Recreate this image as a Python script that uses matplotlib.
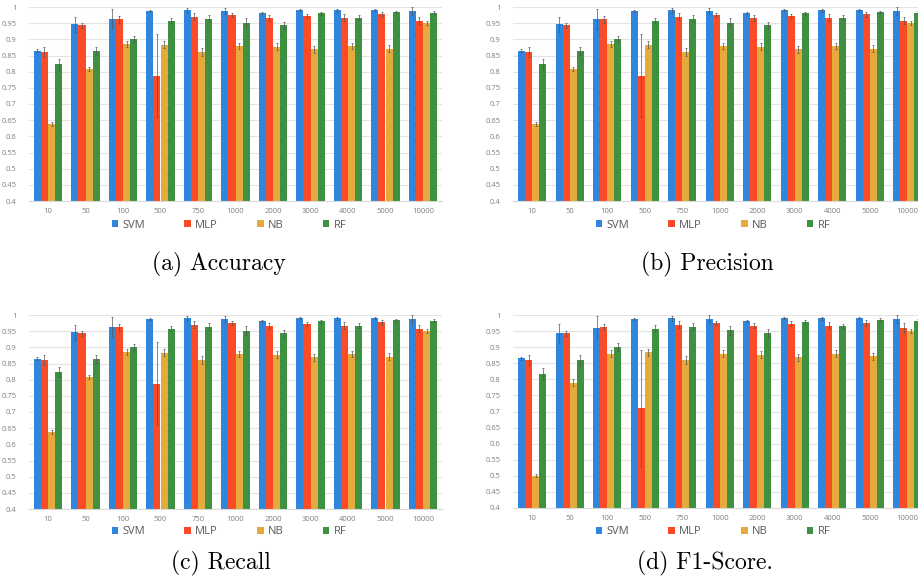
import matplotlib
matplotlib.use("Agg")
import matplotlib.pyplot as plt
from matplotlib.patches import Patch
import numpy as np

categories = ["10", "50", "100", "500", "750", "1000", "2000", "3000", "4000", "5000", "10000"]
models = ["SVM", "MLP", "NB", "RF"]
colors = ["#2f86dc", "#fa4a26", "#e6aa3c", "#3d9140"]
yticks = [0.4, 0.45, 0.5, 0.55, 0.6, 0.65, 0.7, 0.75, 0.8, 0.85, 0.9, 0.95, 1.0]
ytick_labels = ["0.4", "0.45", "0.5", "0.55", "0.6", "0.65", "0.7", "0.75", "0.8", "0.85", "0.9", "0.95", "1"]

# Accuracy
acc_svm = [0.865, 0.946, 0.963, 0.987, 0.990, 0.987, 0.981, 0.991, 0.990, 0.991, 0.987]
acc_mlp = [0.860, 0.943, 0.962, 0.788, 0.970, 0.974, 0.967, 0.972, 0.967, 0.977, 0.958]
acc_nb = [0.638, 0.808, 0.885, 0.883, 0.861, 0.880, 0.877, 0.869, 0.879, 0.871, 0.951]
acc_rf = [0.823, 0.864, 0.901, 0.958, 0.964, 0.952, 0.943, 0.980, 0.967, 0.985, 0.982]
acc_svm_err = [0.005, 0.022, 0.030, 0.003, 0.008, 0.010, 0.003, 0.004, 0.005, 0.004, 0.012]
acc_mlp_err = [0.015, 0.007, 0.010, 0.127, 0.010, 0.006, 0.009, 0.007, 0.010, 0.008, 0.012]
acc_nb_err = [0.005, 0.007, 0.010, 0.011, 0.011, 0.010, 0.011, 0.010, 0.010, 0.010, 0.006]
acc_rf_err = [0.015, 0.012, 0.010, 0.008, 0.011, 0.013, 0.011, 0.006, 0.007, 0.004, 0.005]

# Precision
pre_svm = [0.865, 0.946, 0.963, 0.987, 0.990, 0.987, 0.981, 0.991, 0.990, 0.991, 0.987]
pre_mlp = [0.860, 0.943, 0.962, 0.788, 0.970, 0.974, 0.967, 0.972, 0.967, 0.977, 0.958]
pre_nb = [0.638, 0.808, 0.885, 0.883, 0.861, 0.880, 0.877, 0.869, 0.879, 0.871, 0.951]
pre_rf = [0.823, 0.864, 0.901, 0.958, 0.964, 0.952, 0.943, 0.980, 0.967, 0.985, 0.982]
pre_svm_err = [0.005, 0.022, 0.030, 0.003, 0.008, 0.010, 0.003, 0.004, 0.005, 0.004, 0.012]
pre_mlp_err = [0.015, 0.007, 0.010, 0.127, 0.010, 0.006, 0.009, 0.007, 0.010, 0.008, 0.012]
pre_nb_err = [0.005, 0.007, 0.010, 0.011, 0.011, 0.010, 0.011, 0.010, 0.010, 0.010, 0.006]
pre_rf_err = [0.015, 0.012, 0.010, 0.008, 0.011, 0.013, 0.011, 0.006, 0.007, 0.004, 0.005]

# Recall
rec_svm = [0.865, 0.946, 0.963, 0.987, 0.990, 0.987, 0.981, 0.991, 0.990, 0.991, 0.987]
rec_mlp = [0.860, 0.943, 0.962, 0.788, 0.970, 0.974, 0.967, 0.972, 0.967, 0.977, 0.958]
rec_nb = [0.638, 0.808, 0.885, 0.883, 0.861, 0.880, 0.877, 0.869, 0.879, 0.871, 0.951]
rec_rf = [0.823, 0.864, 0.901, 0.958, 0.964, 0.952, 0.943, 0.980, 0.967, 0.985, 0.982]
rec_svm_err = [0.005, 0.022, 0.030, 0.003, 0.008, 0.010, 0.003, 0.004, 0.005, 0.004, 0.012]
rec_mlp_err = [0.015, 0.007, 0.010, 0.127, 0.010, 0.006, 0.009, 0.007, 0.010, 0.008, 0.012]
rec_nb_err = [0.005, 0.007, 0.010, 0.011, 0.011, 0.010, 0.011, 0.010, 0.010, 0.010, 0.006]
rec_rf_err = [0.015, 0.012, 0.010, 0.008, 0.011, 0.013, 0.011, 0.006, 0.007, 0.004, 0.005]

# F1-Score
f1_svm = [0.865, 0.944, 0.960, 0.987, 0.990, 0.987, 0.981, 0.991, 0.990, 0.991, 0.987]
f1_mlp = [0.860, 0.943, 0.962, 0.712, 0.970, 0.974, 0.967, 0.973, 0.967, 0.975, 0.960]
f1_nb = [0.500, 0.790, 0.880, 0.884, 0.860, 0.880, 0.877, 0.869, 0.880, 0.872, 0.950]
f1_rf = [0.816, 0.860, 0.900, 0.958, 0.964, 0.952, 0.944, 0.979, 0.965, 0.985, 0.982]
f1_svm_err = [0.005, 0.028, 0.036, 0.004, 0.008, 0.012, 0.003, 0.004, 0.005, 0.004, 0.013]
f1_mlp_err = [0.016, 0.008, 0.010, 0.180, 0.010, 0.006, 0.008, 0.007, 0.010, 0.009, 0.015]
f1_nb_err = [0.005, 0.010, 0.010, 0.011, 0.012, 0.011, 0.011, 0.011, 0.010, 0.011, 0.006]
f1_rf_err = [0.018, 0.015, 0.013, 0.010, 0.012, 0.014, 0.012, 0.006, 0.008, 0.005, 0.005]

captions = ["(a) Accuracy", "(b) Precision", "(c) Recall", "(d) F1-Score."]

panels = [
    ([acc_svm, acc_mlp, acc_nb, acc_rf], [acc_svm_err, acc_mlp_err, acc_nb_err, acc_rf_err]),
    ([pre_svm, pre_mlp, pre_nb, pre_rf], [pre_svm_err, pre_mlp_err, pre_nb_err, pre_rf_err]),
    ([rec_svm, rec_mlp, rec_nb, rec_rf], [rec_svm_err, rec_mlp_err, rec_nb_err, rec_rf_err]),
    ([f1_svm, f1_mlp, f1_nb, f1_rf], [f1_svm_err, f1_mlp_err, f1_nb_err, f1_rf_err]),
]

W, H = 918, 585
fig = plt.figure(figsize=(W / 100, H / 100), dpi=100)
fig.patch.set_facecolor("white")

# pixel boxes: left, right, top, bottom
boxes = [
    (29.25, 441.75, 7, 201),
    (513.25, 926.25, 7, 201),
    (29.25, 441.75, 315, 509),
    (513.25, 926.25, 315, 508),
]
legend_x = [229, 713, 229, 713]
legend_y = [225, 225, 532, 532]
caption_pos = [(219, 264), (707, 264), (221, 563), (705, 563)]

tick_color = "#7f7f7f"
grid_color = "#e3e3e3"
x = np.arange(len(categories))
bw = 0.187

for i, (vals, errs) in enumerate(panels):
    l, r, t, b = boxes[i]
    ax = fig.add_axes([l / W, 1 - b / H, (r - l) / W, (b - t) / H])
    ax.set_facecolor("white")
    for j in range(4):
        off = (j - 1.5) * bw
        bottoms = np.full(len(categories), 0.4)
        heights = np.array(vals[j]) - 0.4
        ax.bar(x + off, heights, bw, bottom=bottoms, color=colors[j], zorder=2,
               yerr=errs[j], error_kw=dict(ecolor="#555555", elinewidth=0.5,
                                            capsize=1.0, capthick=0.5, zorder=3,
                                            clip_on=False))
    ax.set_xlim(-0.5, len(categories) - 0.5)
    ax.set_ylim(0.4, 1.0)
    ax.set_yticks(yticks)
    ax.set_yticklabels(ytick_labels)
    ax.set_xticks(x)
    ax.set_xticklabels(categories)
    ax.tick_params(axis="both", length=0, labelsize=5.5, colors=tick_color)
    ax.tick_params(axis="y", pad=9)
    ax.tick_params(axis="x", pad=5)
    for lab in ax.get_xticklabels() + ax.get_yticklabels():
        lab.set_fontfamily("Open Sans")
    ax.grid(axis="y", color=grid_color, linewidth=0.8, zorder=0)
    ax.set_axisbelow(True)
    for s in ["top", "right", "left"]:
        ax.spines[s].set_visible(False)
    ax.spines["bottom"].set_color("#d9d9d9")
    ax.spines["bottom"].set_linewidth(0.8)

    handles = [Patch(facecolor=c, edgecolor="none") for c in colors]
    fig.legend(handles, models, loc="center", ncol=4,
               bbox_to_anchor=(legend_x[i] / W, 1 - legend_y[i] / H),
               frameon=False, prop={"family": "Open Sans", "size": 8},
               labelcolor="#595959", handlelength=0.6, handleheight=0.6,
               handletextpad=0.4, columnspacing=3.5, borderpad=0)

    cx, cy = caption_pos[i]
    fig.text(cx / W, 1 - cy / H, captions[i], family="cmr10",
             ha="center", va="center", fontsize=17)

fig.savefig("out.png", dpi=100, facecolor="white")
